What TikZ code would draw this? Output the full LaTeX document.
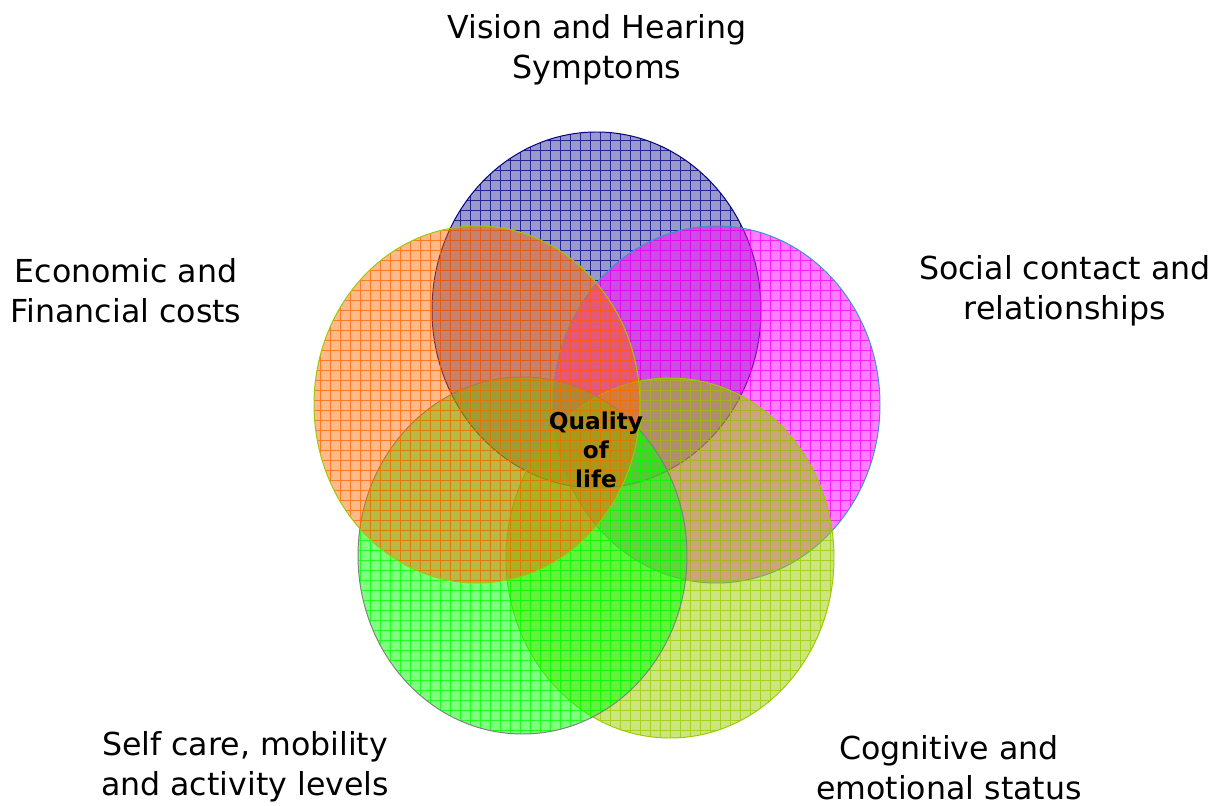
\documentclass[tikz,border=0pt]{standalone}
\usepackage{fontspec}
\setmainfont{DejaVu Sans}
\usepackage{xcolor}
\definecolor{visionblue}{RGB}{0, 0, 128}
\definecolor{socialpink}{RGB}{255, 0, 255}
\definecolor{socialedge}{RGB}{51, 153, 204}
\definecolor{cognitivelime}{RGB}{153, 204, 0}
\definecolor{selfgreen}{RGB}{0, 255, 0}
\definecolor{economicorange}{RGB}{255, 102, 0}

\tikzset{
    label text/.style={align=center, inner sep=0pt, font=\fontsize{22.5}{28.5}\selectfont},
    core text/.style={align=center, inner sep=0pt, font=\bfseries\fontsize{16.5}{20.6}\selectfont}
}

\begin{document}
\begin{tikzpicture}[x=0.025cm, y=-0.025cm]
    \useasboundingbox (0,0) rectangle (1219,806);

    % Five overlapping ellipses: centre / radii / colour / outline
    \foreach \cx/\cy/\rx/\ry/\col/\edge/\op in {
        596.5/310/164.5/178/visionblue/visionblue/0.4,
        716.5/404.5/163.5/178.5/socialpink/socialedge/0.5,
        670/558/164/180/cognitivelime/cognitivelime/0.5,
        522.5/555.5/164.5/178.5/selfgreen/gray/0.5,
        477/404.5/163/178.5/economicorange/cognitivelime/0.45} {
        \fill[\col, fill opacity=\op] (\cx,\cy) ellipse ({\rx} and {\ry});
        \begin{scope}
            \clip (\cx,\cy) ellipse ({\rx} and {\ry});
            \draw[\col, line width=0.5pt, opacity=0.75, step=0.25cm]
                (0,0) grid (1219,806);
        \end{scope}
        \draw[\edge, line width=0.7pt] (\cx,\cy) ellipse ({\rx} and {\ry});
    }

    % Labels
    \node[label text] (vision) at (597,50) {Vision and Hearing\\Symptoms};
    \node[label text] (economic) at (126,291) {Economic and\\Financial costs};
    \node[label text] (social) at (1065,291) {Social contact and\\relationships};
    \node[label text] (selfcare) at (245,767) {Self care, mobility\\and activity levels};
    \node[label text] (cognitive) at (949,768) {Cognitive and\\emotional status};

    \node[core text] (quality) at (596,450) {Quality\\of\\life};
\end{tikzpicture}
\end{document}
